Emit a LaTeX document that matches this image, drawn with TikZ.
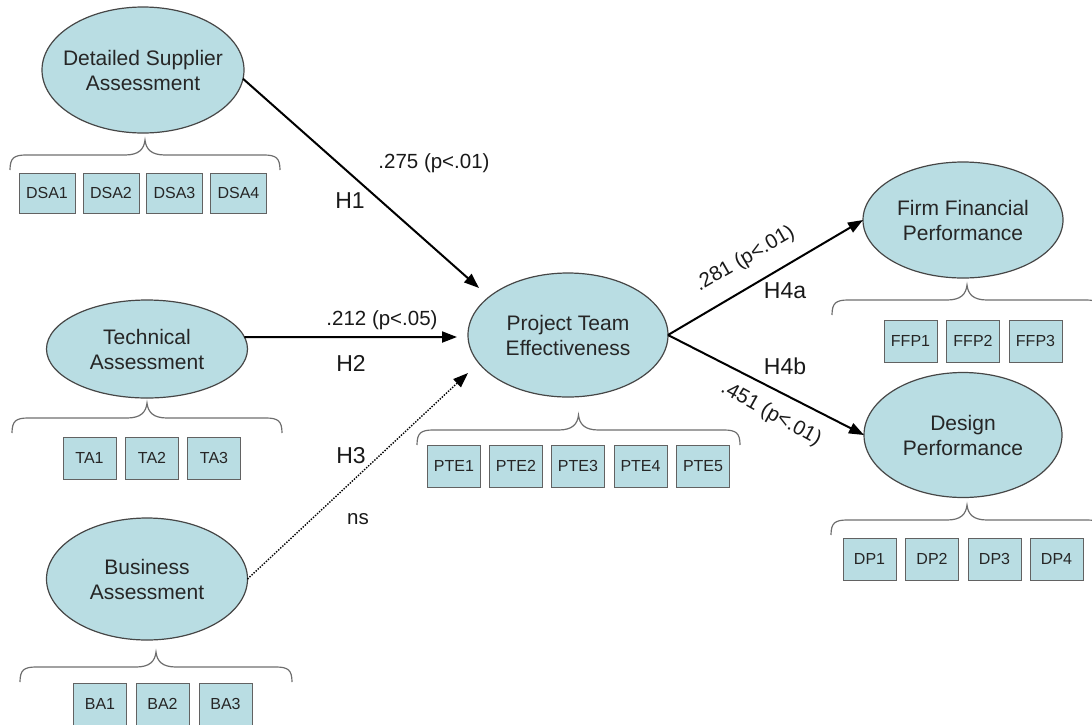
\documentclass[tikz,border=0pt]{standalone}
\usepackage{fontspec}
\setmainfont{Liberation Sans}
\usetikzlibrary{shapes.geometric,arrows.meta}

\definecolor{latfill}{RGB}{185,221,227}
\definecolor{edgegray}{RGB}{70,70,70}
\definecolor{bracegray}{RGB}{110,110,110}

\tikzset{
  latent/.style={ellipse, draw=edgegray, line width=1.2pt, fill=latfill, inner sep=0pt, outer sep=0pt},
  lattext/.style={align=center, font=\fontsize{21}{25}\selectfont, text=black!85},
  indic/.style={rectangle, draw=edgegray!85, line width=1pt, fill=latfill,
    minimum width=53pt, minimum height=42pt, inner sep=0pt,
    font=\fontsize{16}{18}\selectfont, text=black!85},
  link/.style={line width=2pt, -{Triangle[length=15pt,width=11pt]}},
  weaklink/.style={line width=1.4pt, dash pattern=on 1.4pt off 1.4pt, -{Triangle[length=15pt,width=11pt]}},
  coef/.style={font=\fontsize{20.5}{24}\selectfont, text=black!90, inner sep=0pt},
  hyp/.style={font=\fontsize{23}{26}\selectfont, text=black!90, inner sep=0pt},
  bracestyle/.style={draw=bracegray, line width=1.2pt},
}

% curly brace grouping indicators: left x, right x, y of the ends
\newcommand\facetbrace[3]{%
  \pgfmathsetmacro\fbxm{(#1+#2)/2}%
  \pgfmathsetmacro\fbyh{#3-15}%
  \pgfmathsetmacro\fbyp{#3-30}%
  \draw[bracestyle] (#1,#3) .. controls (#1,\fbyh+3) and (#1+4,\fbyh) .. (#1+16,\fbyh)
    -- (\fbxm-20,\fbyh) .. controls (\fbxm-6,\fbyh) and (\fbxm-1,\fbyh-6) .. (\fbxm,\fbyp)
    .. controls (\fbxm+1,\fbyh-6) and (\fbxm+6,\fbyh) .. (\fbxm+20,\fbyh)
    -- (#2-16,\fbyh) .. controls (#2-4,\fbyh) and (#2,\fbyh+3) .. (#2,#3);%
}

\begin{document}
\begin{tikzpicture}[x=1pt,y=-1pt]
\useasboundingbox (0,0) rectangle (1092,724);

% latent constructs
\node[latent, minimum width=202pt, minimum height=126pt,
  label={[lattext]center:Detailed Supplier\\Assessment}] (dsa) at (143,70) {};
\node[latent, minimum width=201pt, minimum height=98pt,
  label={[lattext]center:Technical\\Assessment}] (ta) at (147,349) {};
\node[latent, minimum width=201pt, minimum height=122pt,
  label={[lattext]center:Business\\Assessment}] (ba) at (147,579) {};
\node[latent, minimum width=200pt, minimum height=124pt,
  label={[lattext]center:Project Team\\Effectiveness}] (pte) at (568,335) {};
\node[latent, minimum width=200pt, minimum height=116pt,
  label={[lattext]center:Firm Financial\\Performance}] (ffp) at (963,220) {};
\node[latent, minimum width=198pt, minimum height=125pt,
  label={[lattext]center:Design\\Performance}] (dp) at (963,435) {};

% braces
\facetbrace{10}{280}{170}
\facetbrace{12}{282}{433}
\facetbrace{20}{292}{682}
\facetbrace{417}{740}{445}
\facetbrace{832}{1102}{315}
\facetbrace{831}{1103}{535}

% indicators
\node[indic, minimum width=56pt, minimum height=40pt] (dsa1) at (47,193) {DSA1};
\node[indic, minimum width=56pt, minimum height=40pt] (dsa2) at (111,193) {DSA2};
\node[indic, minimum width=56pt, minimum height=40pt] (dsa3) at (174.5,193) {DSA3};
\node[indic, minimum width=56pt, minimum height=40pt] (dsa4) at (238.5,193) {DSA4};

\node[indic] (ta1) at (89.5,458) {TA1};
\node[indic] (ta2) at (152,458) {TA2};
\node[indic] (ta3) at (214,458) {TA3};

\node[indic] (ba1) at (100,704) {BA1};
\node[indic] (ba2) at (162.5,704) {BA2};
\node[indic] (ba3) at (225.5,704) {BA3};

\node[indic] (pte1) at (454,466) {PTE1};
\node[indic] (pte2) at (516,466) {PTE2};
\node[indic] (pte3) at (578,466) {PTE3};
\node[indic] (pte4) at (640.5,466) {PTE4};
\node[indic] (pte5) at (703,466) {PTE5};

\node[indic] (ffp1) at (910.5,341) {FFP1};
\node[indic] (ffp2) at (973,341) {FFP2};
\node[indic] (ffp3) at (1035.5,341) {FFP3};

\node[indic] (dp1) at (869.5,559) {DP1};
\node[indic] (dp2) at (932,559) {DP2};
\node[indic] (dp3) at (994.5,559) {DP3};
\node[indic] (dp4) at (1056.5,559) {DP4};

% structural paths
\coordinate (h1end) at (479,288);
\coordinate (h2end) at (457,337);
\coordinate (h3end) at (468,373);

\draw[link] (dsa.-5) -- (h1end);
\draw[link] (ta.7) -- (h2end);
\draw[weaklink] (ba.east) -- (h3end);
\draw[link] (pte.east) -- (ffp.west);
\draw[link] (pte.east) -- (dp.west);

% path labels
\node[coef] (c1) at (434,163) {.275 (p<.01)};
\node[hyp] (l1) at (350,201) {H1};
\node[coef] (c2) at (382,320) {.212 (p<.05)};
\node[hyp] (l2) at (351,363) {H2};
\node[hyp] (l3) at (351,456) {H3};
\node[coef] (c3) at (358,519) {ns};
\node[coef, rotate=30] (c4a) at (745,259) {.281 (p<.01)};
\node[hyp] (l4a) at (785,291) {H4a};
\node[hyp] (l4b) at (785,366) {H4b};
\node[coef, rotate=-29] (c4b) at (771,414) {.451 (p<.01)};

\end{tikzpicture}
\end{document}
